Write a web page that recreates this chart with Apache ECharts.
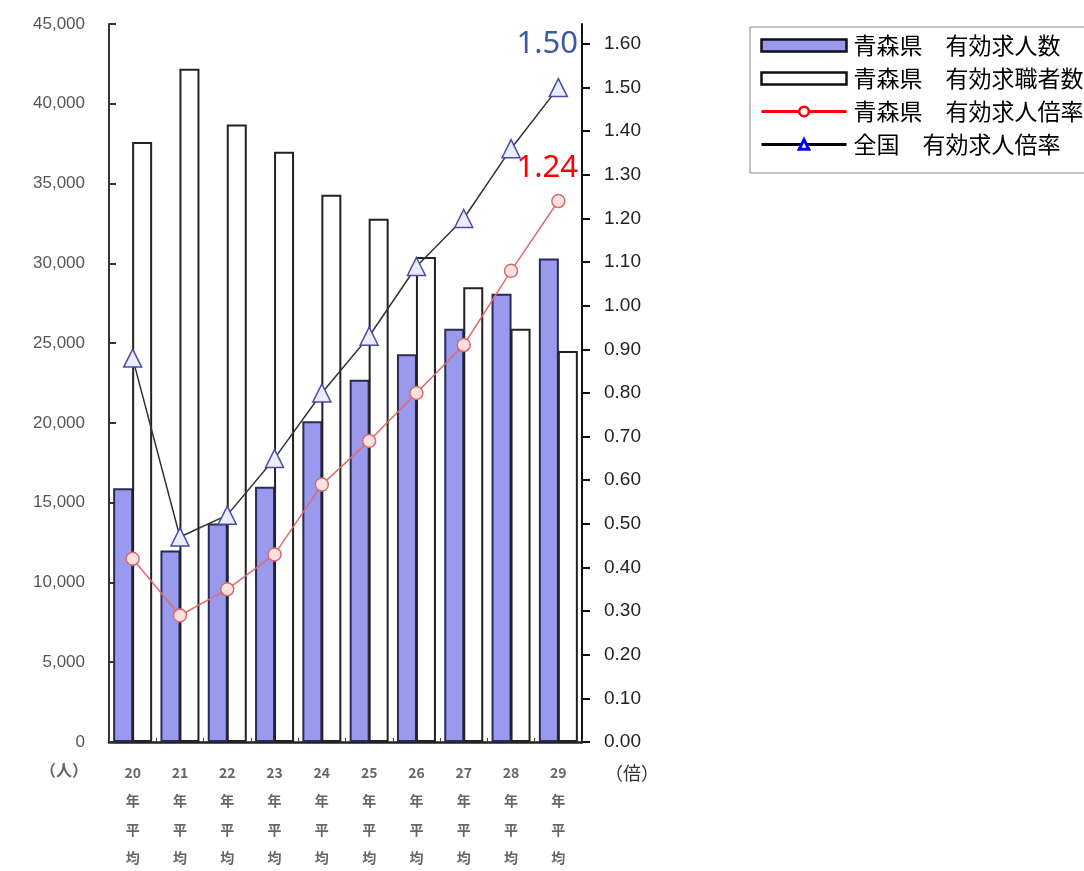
<!DOCTYPE html>
<html>
<head>
<meta charset="utf-8">
<script src="https://cdn.jsdelivr.net/npm/echarts@6/dist/echarts.min.js"></script>
<style>
html,body{margin:0;padding:0;background:#fff;}
#chartmain{width:1084px;height:871px;}
</style>
</head>
<body>
<div id="chartmain"></div>
<script>
// 年度（平成）
var years=['20','21','22','23','24','25','26','27','28','29'];
// 青森県 有効求人数（人）
var kyujin=[15900,12000,13700,16000,20100,22700,24300,25900,28100,30300];
// 青森県 有効求職者数（人）
var kyushoku=[37600,42200,38700,37000,34300,32800,30400,28500,25900,24500];
// 青森県 有効求人倍率（倍）
var aomoriRatio=[0.42,0.29,0.35,0.43,0.59,0.69,0.80,0.91,1.08,1.24];
// 全国 有効求人倍率（倍）
var zenkokuRatio=[0.88,0.47,0.52,0.65,0.80,0.93,1.09,1.20,1.36,1.50];
// 右軸の目盛
var rightTicks=[0,0.1,0.2,0.3,0.4,0.5,0.6,0.7,0.8,0.9,1.0,1.1,1.2,1.3,1.4,1.5,1.6];

var names=['青森県　有効求人数','青森県　有効求職者数','青森県　有効求人倍率','全国　有効求人倍率'];
var numFont='Liberation Sans';
var jpFont='"Noto Sans CJK JP"';

var myChart=echarts.init(document.getElementById("chartmain"));
var option={
	backgroundColor:'#fff',
	animation:false,
	grid:{left:109,right:502,top:24,bottom:129,outerBoundsMode:'none'},
	legend:{
		orient:'vertical',
		left:750,top:27,
		padding:[7,60,17,10],
		itemGap:10,
		itemWidth:85,itemHeight:12,
		borderColor:'#888',borderWidth:1,
		textStyle:{fontFamily:jpFont,fontSize:23,color:'#000',padding:[0,0,0,2]},
		data:[
			{name:names[0],icon:'rect',itemStyle:{color:'#9999ee',borderColor:'#111',borderWidth:2.5}},
			{name:names[1],icon:'rect',itemStyle:{color:'#fff',borderColor:'#111',borderWidth:2.5}},
			{name:names[2],itemStyle:{color:'#fff',borderColor:'#f00',borderWidth:2.5},lineStyle:{color:'#f00',width:3}},
			{name:names[3],itemStyle:{color:'#fff',borderColor:'#00f',borderWidth:3},lineStyle:{color:'#000',width:3}}
		]
	},
	xAxis:[{
		type:'category',
		data:years,
		axisLine:{lineStyle:{color:'#222',width:2.5}},
		axisTick:{show:true,inside:true,length:4,lineStyle:{color:'#444'}},
		axisLabel:{
			interval:0,margin:16,
			fontFamily:jpFont,fontSize:14,fontWeight:'bold',color:'#666',lineHeight:28.5,
			formatter:function(v){return v+'\n年\n平\n均';}
		}
	}],
	yAxis:[{
		type:'value',min:0,max:45000,interval:5000,
		splitLine:{show:false},
		axisLine:{show:true,lineStyle:{color:'#333',width:2}},
		axisTick:{show:true,inside:true,length:7,lineStyle:{color:'#333',width:2}},
		axisLabel:{margin:24,fontFamily:numFont,fontSize:17,color:'#555'}
	},{
		type:'value',min:0,max:1.6458,position:'right',
		splitLine:{show:false},
		axisLine:{show:true,lineStyle:{color:'#111',width:2}},
		axisTick:{show:true,length:8,lineStyle:{color:'#111',width:2},customValues:rightTicks},
		axisLabel:{margin:22,fontFamily:numFont,fontSize:19,color:'#222',customValues:rightTicks,
			formatter:function(v){return v.toFixed(2);}}
	}],
	series:[{
		name:names[0],type:'bar',
		barWidth:20,barGap:'-5%',
		itemStyle:{color:'#9999ee',borderColor:'#2a2a55',borderWidth:2},
		data:kyujin
	},{
		name:names[1],type:'bar',
		barWidth:20,barGap:'-5%',
		itemStyle:{color:'#fff',borderColor:'#222',borderWidth:2},
		data:kyushoku
	},{
		name:names[2],type:'line',yAxisIndex:1,z:5,
		symbol:'circle',symbolSize:13,
		lineStyle:{color:'#e06a6a',width:1.5},
		itemStyle:{color:'#ffe0e0',borderColor:'#d86a6a',borderWidth:1.5},
		data:aomoriRatio
	},{
		name:names[3],type:'line',yAxisIndex:1,z:6,
		symbol:'triangle',symbolSize:18,
		lineStyle:{color:'#333',width:1.5},
		itemStyle:{color:'#ececff',borderColor:'#4a4aa8',borderWidth:1.5},
		data:zenkokuRatio
	}],
	graphic:[
		{type:'text',left:40,top:762,style:{text:'（人）',fontFamily:jpFont,fontSize:16,fontWeight:'bold',fill:'#666'}},
		{type:'text',left:605,top:764,style:{text:'（倍）',fontFamily:jpFont,fontSize:18,fill:'#333'}},
		{type:'text',right:506,top:29,style:{text:zenkokuRatio[9].toFixed(2),fontFamily:'"Noto Sans"',fontSize:31,fill:'#3a5aa6'}},
		{type:'text',right:506,top:153,style:{text:aomoriRatio[9].toFixed(2),fontFamily:'"Noto Sans"',fontSize:31,fill:'#ff0000'}}
	]
};
myChart.setOption(option);
</script>
</body>
</html>
